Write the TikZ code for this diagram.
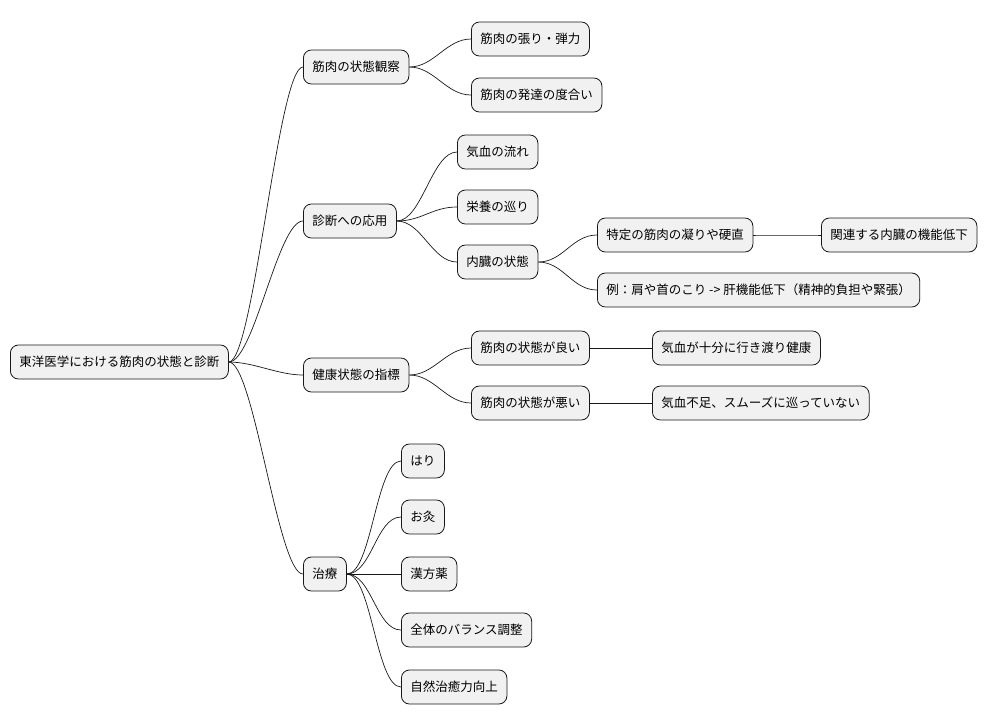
\documentclass[tikz,border=0pt]{standalone}
\usepackage{fontspec}
\setmainfont{Noto Sans CJK JP}
\definecolor{boxfill}{HTML}{F1F1F1}
\definecolor{boxline}{HTML}{181818}
\begin{document}
\begin{tikzpicture}[x=1pt,y=-1pt,
  mm/.style={draw=boxline,fill=boxfill,rounded corners=8pt,line width=0.8pt,minimum height=34pt,inner xsep=9pt,font=\fontsize{12.5}{14}\selectfont,anchor=west},
  ln/.style={draw=boxline,line width=0.7pt}]
\useasboundingbox (0,0) rectangle (1006,724);
\node[mm] (r) at (10,362) {東洋医学における筋肉の状態と診断};
\node[mm] (a) at (303,67) {筋肉の状態観察};
\node[mm] (a1) at (471,39) {筋肉の張り・弾力};
\node[mm] (a2) at (471,95) {筋肉の発達の度合い};
\node[mm] (b) at (303,221) {診断への応用};
\node[mm] (b1) at (457,152) {気血の流れ};
\node[mm] (b2) at (457,207) {栄養の巡り};
\node[mm] (b3) at (457,262) {内臓の状態};
\node[mm] (b31) at (597,235) {特定の筋肉の凝りや硬直};
\node[mm] (b311) at (821,235) {関連する内臓の機能低下};
\node[mm] (b32) at (597,290) {例：肩や首のこり -> 肝機能低下（精神的負担や緊張）};
\node[mm] (c) at (303,375) {健康状態の指標};
\node[mm] (c1) at (471,348) {筋肉の状態が良い};
\node[mm] (c11) at (652,348) {気血が十分に行き渡り健康};
\node[mm] (c2) at (471,403) {筋肉の状態が悪い};
\node[mm] (c21) at (652,403) {気血不足、スムーズに巡っていない};
\node[mm] (d) at (303,574) {治療};
\node[mm] (d1) at (401,461) {はり};
\node[mm] (d2) at (401,517) {お灸};
\node[mm] (d3) at (401,574) {漢方薬};
\node[mm] (d4) at (401,630) {全体のバランス調整};
\node[mm] (d5) at (401,687) {自然治癒力向上};
\foreach \p/\c in {r/a,r/b,r/c,r/d,a/a1,a/a2,b/b1,b/b2,b/b3,b3/b31,b3/b32,b31/b311,c/c1,c/c2,c1/c11,c2/c21,d/d1,d/d2,d/d3,d/d4,d/d5}
  \draw[ln] (\p.east) .. controls ([xshift=25pt]\p.east) and ([xshift=-25pt]\c.west) .. (\c.west);
\end{tikzpicture}
\end{document}
